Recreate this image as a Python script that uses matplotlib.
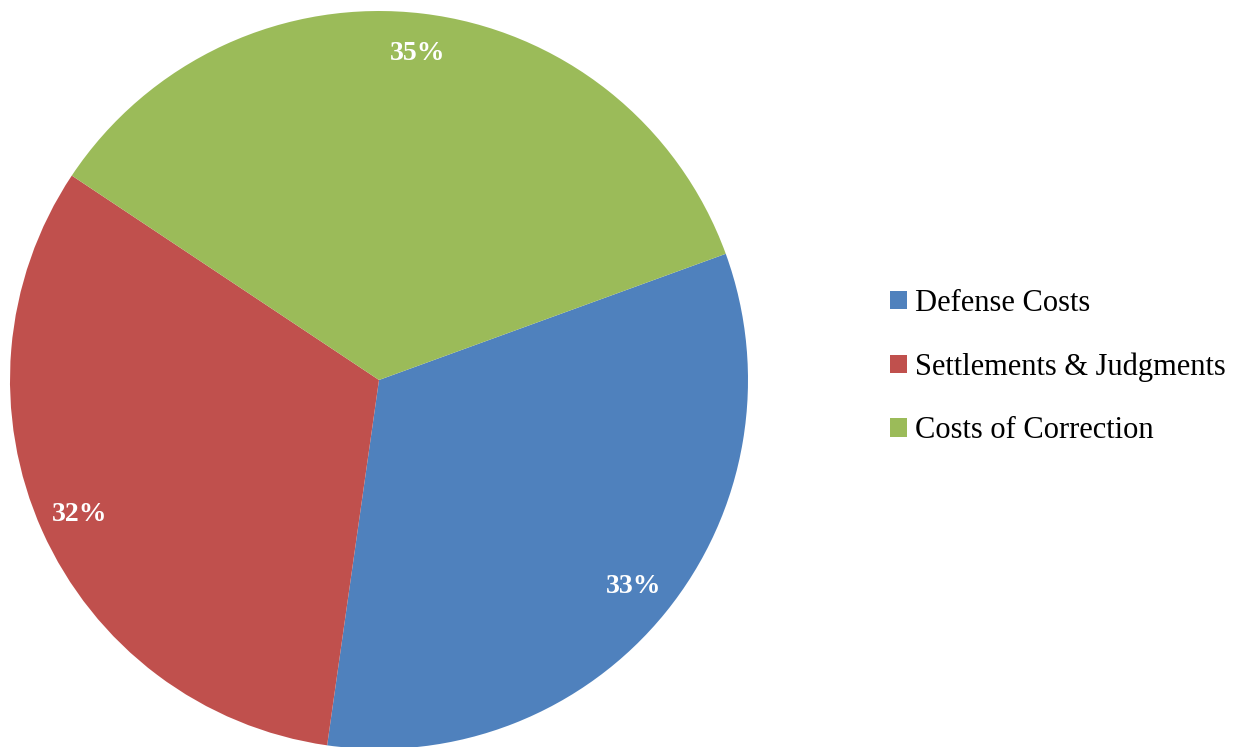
import matplotlib
matplotlib.use("Agg")
import matplotlib.pyplot as plt
from matplotlib.patches import Patch

categories = ["Defense Costs", "Settlements & Judgments", "Costs of Correction"]
values = [32.8, 32.1, 35.1]
colors = ["#4F81BD", "#C0504D", "#9BBB59"]

plt.rcParams['font.family'] = ['Liberation Serif', 'DejaVu Serif']

fig = plt.figure(figsize=(12.4, 7.47), dpi=100)
W, H = 1240, 747
cx, cy, r = 379, 380, 369
ax = fig.add_axes([(cx - r) / W, (H - cy - r) / H, 2 * r / W, 2 * r / H])
wedges, texts, autotexts = ax.pie(
    values, colors=colors, startangle=20, counterclock=False,
    autopct=lambda p: f"{p:.0f}%", pctdistance=0.89, radius=1,
    wedgeprops=dict(linewidth=0),
    textprops=dict(color="white", fontsize=20, fontweight="bold"))
ax.set_xlim(-1, 1)
ax.set_ylim(-1, 1)
ax.set_aspect("equal")
ax.axis("off")

handles = [Patch(facecolor=c, edgecolor="none") for c in colors]
fig.legend(handles, categories, loc="center left",
           bbox_to_anchor=(890 / W, 1 - 367 / H), frameon=False,
           fontsize=22, handlelength=0.56, handleheight=0.56,
           handletextpad=0.26, labelspacing=1.13, borderpad=0, borderaxespad=0)

fig.savefig("out.png", dpi=100)
